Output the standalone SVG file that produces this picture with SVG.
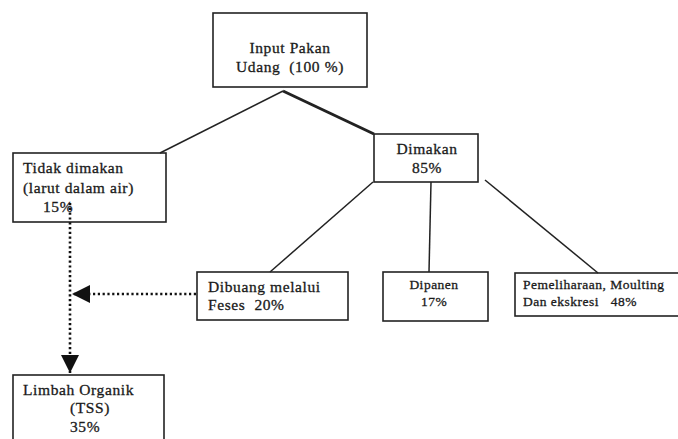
<svg xmlns="http://www.w3.org/2000/svg" width="678" height="439" viewBox="0 0 678 439">
<style>
.box{fill:#fff;stroke:#222;stroke-width:1.6}
.t{font-family:"Liberation Serif","Times New Roman",serif;font-size:15.5px;letter-spacing:0.6px;fill:#1a1a1a;stroke:#1a1a1a;stroke-width:0.3}
.s{font-size:13.5px;letter-spacing:0.5px}
.c{text-anchor:middle}
.ln{stroke:#222;stroke-width:1.5;fill:none}
.dot{stroke:#111;stroke-width:2.6;fill:none;stroke-dasharray:2.2 2.6}
</style>
<defs>
<marker id="ah" viewBox="0 0 10 10" refX="10" refY="5" markerWidth="7" markerHeight="7" markerUnits="strokeWidth" orient="auto">
<path d="M0,0 L10,5 L0,10 z" fill="#111"/>
</marker>
</defs>
<rect width="678" height="439" fill="#fff"/>
<g id="input">
<rect class="box" x="213" y="13" width="154" height="74"/>
<text class="t c" x="290" y="53">Input Pakan</text>
<text class="t c" x="290" y="72" xml:space="preserve">Udang  (100 %)</text>
</g>
<g id="tidak">
<rect class="box" x="13" y="153" width="153" height="69"/>
<text class="t" x="23" y="173">Tidak dimakan</text>
<text class="t" x="23" y="193">(larut dalam air)</text>
<text class="t" x="43" y="212">15%</text>
</g>
<g id="dimakan">
<rect class="box" x="374" y="134" width="104" height="48"/>
<text class="t c" x="427" y="154">Dimakan</text>
<text class="t c" x="427" y="173">85%</text>
</g>
<g id="dibuang">
<rect class="box" x="197" y="272" width="151" height="48"/>
<text class="t" x="208" y="292">Dibuang melalui</text>
<text class="t" x="208" y="310" xml:space="preserve">Feses  20%</text>
</g>
<g id="dipanen">
<rect class="box" x="383" y="272" width="105" height="49"/>
<text class="t s c" x="434" y="289">Dipanen</text>
<text class="t s c" x="434" y="306">17%</text>
</g>
<g id="pemeliharaan">
<rect class="box" x="515" y="273" width="175" height="43"/>
<text class="t s" x="523" y="289">Pemeliharaan, Moulting</text>
<text class="t s" x="523" y="306" xml:space="preserve">Dan ekskresi   48%</text>
</g>
<g id="limbah">
<rect class="box" x="13" y="375" width="151" height="80"/>
<text class="t" x="23" y="395">Limbah Organik</text>
<text class="t" x="70" y="413">(TSS)</text>
<text class="t" x="70" y="432">35%</text>
</g>
<g id="connectors">
<line class="ln" x1="283" y1="91" x2="160" y2="153"/>
<line class="ln" x1="283" y1="91" x2="374" y2="134" style="stroke-width:3"/>
<line class="ln" x1="373" y1="182" x2="270" y2="272"/>
<line class="ln" x1="431" y1="182" x2="429" y2="272"/>
<line class="ln" x1="485" y1="180" x2="598" y2="273"/>
<line class="dot" x1="70" y1="203" x2="70" y2="373" marker-end="url(#ah)"/>
<line class="dot" x1="196" y1="294" x2="72" y2="294" marker-end="url(#ah)"/>
</g>
</svg>
